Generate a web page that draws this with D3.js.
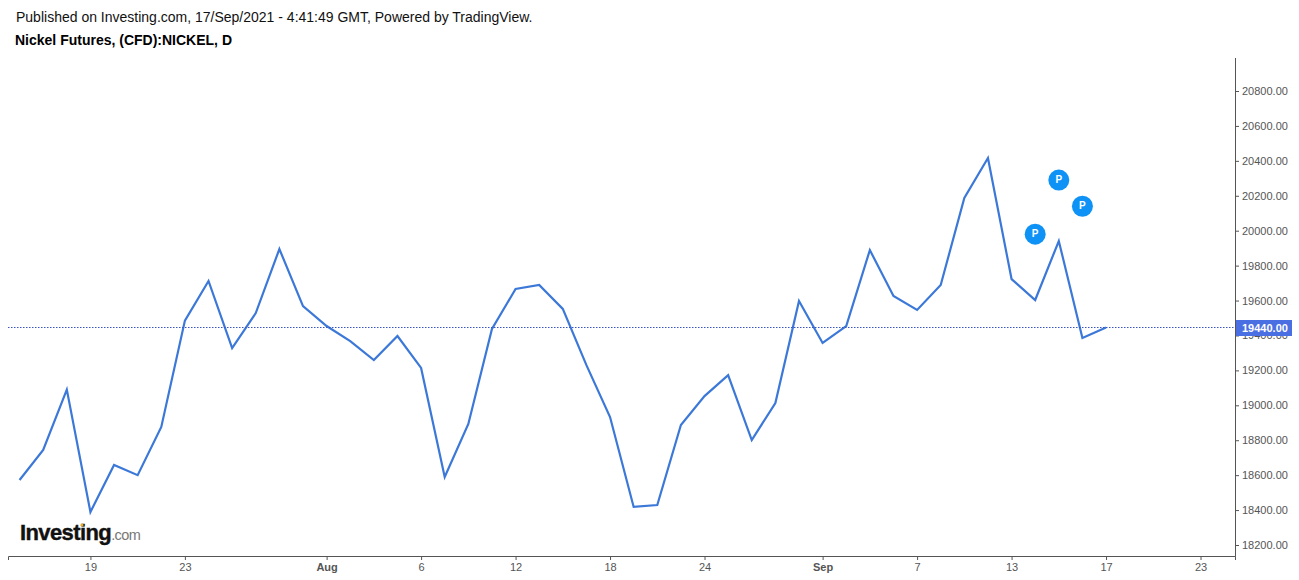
<!DOCTYPE html>
<html>
<head>
<meta charset="utf-8">
<script src="https://cdn.jsdelivr.net/npm/d3@7"></script>
<style>
    html, body { margin: 0; padding: 0; background: #fff; }
    svg { display: block; }
    text { font-family: "Liberation Sans", Arial, sans-serif; }
</style>
</head>
<body>
<div id="chart"></div>
<script>
// Trading days, Jul 14 to Sep 17 (2021)
const days = [
    "Jul 14", "Jul 15", "Jul 16", "Jul 19", "Jul 20", "Jul 21", "Jul 22", "Jul 23",
    "Jul 26", "Jul 27", "Jul 28", "Jul 29", "Jul 30", "Aug 2", "Aug 3", "Aug 4",
    "Aug 5", "Aug 6", "Aug 9", "Aug 10", "Aug 11", "Aug 12", "Aug 13", "Aug 16",
    "Aug 17", "Aug 18", "Aug 19", "Aug 20", "Aug 23", "Aug 24", "Aug 25", "Aug 26",
    "Aug 27", "Aug 30", "Aug 31", "Sep 1", "Sep 2", "Sep 3", "Sep 6", "Sep 7",
    "Sep 8", "Sep 9", "Sep 10", "Sep 13", "Sep 14", "Sep 15", "Sep 16", "Sep 17"
];

// Close prices
const closes = [
    18572, 18744, 19090, 18389, 18658, 18600, 18876, 19485,
    19712, 19328, 19528, 19895, 19568, 19454, 19368, 19259,
    19397, 19214, 18590, 18893, 19437, 19666, 19689, 19552,
    19230, 18933, 18418, 18429, 18887, 19053, 19173, 18801,
    19013, 19597, 19357, 19454, 19889, 19626, 19546, 19689,
    20188, 20416, 19723, 19603, 19941, 19386, 19445
];

// x tick labels, by position on the time axis
const xTickPositions = [3, 7, 13, 17, 21, 25, 29, 34, 38, 42, 46, 50];
const xTickLabels = ["19", "23", "Aug", "6", "12", "18", "24", "Sep", "7", "13", "17", "23"];
const boldTicks = ["Aug", "Sep"];

const yTicks = [18200, 18400, 18600, 18800, 19000, 19200, 19400, 19600, 19800, 20000, 20200, 20400, 20600, 20800];

// "P" idea markers: position on the time axis, price level
const markerPositions = [43, 44, 45];
const markerPrices = [19980, 20290, 20140];

const lastPrice = 19440;
const publishedText = "Published on Investing.com, 17/Sep/2021 - 4:41:49 GMT, Powered by TradingView.";
const symbolText = "Nickel Futures, (CFD):NICKEL, D";

const width = 1299;
const height = 580;
const axisX = 1235;
const axisY = 556;

const svg = d3.select("#chart")
    .append("svg")
    .attr("width", width)
    .attr("height", height);

const xScale = d3.scaleLinear()
    .domain([-0.49, 51.46])
    .range([8, axisX]);

const yScale = d3.scaleLinear()
    .domain([18200, 20800])
    .range([545, 91]);

// Header text
svg.append("text")
    .attr("x", 16)
    .attr("y", 22)
    .attr("font-size", 14)
    .attr("fill", "#111")
    .text(publishedText);

svg.append("text")
    .attr("x", 15)
    .attr("y", 45)
    .attr("font-size", 14)
    .attr("font-weight", "bold")
    .attr("fill", "#000")
    .text(symbolText);

// Axes
const xAxis = d3.axisBottom(xScale)
    .tickValues(xTickPositions)
    .tickSize(4)
    .tickPadding(3)
    .tickFormat((d, i) => xTickLabels[i]);

const xAxisG = svg.append("g")
    .attr("transform", `translate(0, ${axisY})`)
    .call(xAxis);

xAxisG.select(".domain").attr("stroke", "#555").attr("stroke-width", 1);
xAxisG.selectAll(".tick line").attr("stroke", "#555");
xAxisG.selectAll(".tick text")
    .attr("font-size", 11)
    .attr("fill", "#555")
    .attr("font-weight", d => boldTicks.includes(xTickLabels[xTickPositions.indexOf(d)]) ? "bold" : "normal");

const yAxis = d3.axisRight(yScale)
    .tickValues(yTicks)
    .tickSize(4)
    .tickPadding(3)
    .tickFormat(d3.format(".2f"));

const yAxisG = svg.append("g")
    .attr("transform", `translate(${axisX}, 0)`)
    .call(yAxis);

yAxisG.select(".domain").attr("d", `M0.5,58V${axisY + 0.5}`).attr("stroke", "#555").attr("stroke-width", 1);
yAxisG.selectAll(".tick line").attr("stroke", "#555");
yAxisG.selectAll(".tick text")
    .attr("font-size", 11)
    .attr("fill", "#555");

// Price line
const line = d3.line()
    .x((d, i) => xScale(i))
    .y(d => yScale(d));

svg.append("path")
    .datum(closes)
    .attr("fill", "none")
    .attr("stroke", "#3c78d8")
    .attr("stroke-width", 2.2)
    .attr("stroke-linejoin", "miter")
    .attr("d", line);

// Last price dotted line and label
const lastY = Math.floor(yScale(lastPrice)) - 0.5;

svg.append("line")
    .attr("x1", 8)
    .attr("x2", axisX)
    .attr("y1", lastY)
    .attr("y2", lastY)
    .attr("stroke", "#3a55c0")
    .attr("stroke-width", 1)
    .attr("stroke-dasharray", "1.5,1.5");

svg.append("rect")
    .attr("x", axisX + 1)
    .attr("y", lastY - 7.5)
    .attr("width", 56)
    .attr("height", 16)
    .attr("fill", "#4a6fe3");

svg.append("text")
    .attr("x", axisX + 7)
    .attr("y", lastY + 4.5)
    .attr("font-size", 11)
    .attr("font-weight", "bold")
    .attr("fill", "#fff")
    .text(d3.format(".2f")(lastPrice));

// P markers
const markers = svg.selectAll(".marker")
    .data(markerPositions)
    .enter()
    .append("g")
    .attr("class", "marker")
    .attr("transform", (d, i) => `translate(${xScale(d)}, ${yScale(markerPrices[i])})`);

markers.append("circle")
    .attr("r", 10.5)
    .attr("fill", "#0f92f5");

markers.append("text")
    .attr("text-anchor", "middle")
    .attr("y", 3)
    .attr("font-size", 10)
    .attr("font-weight", "bold")
    .attr("fill", "#fff")
    .text("P");

// Logo
const logo = svg.append("text")
    .attr("x", 20)
    .attr("y", 540)
    .attr("fill", "#111");

logo.append("tspan")
    .attr("font-size", 22)
    .attr("font-weight", "bold")
    .attr("letter-spacing", -0.6)
    .attr("stroke", "#111")
    .attr("stroke-width", 0.4)
    .text("Investing");

logo.append("tspan")
    .attr("font-size", 14.5)
    .attr("fill", "#777")
    .attr("letter-spacing", -0.6)
    .text(".com");

// Yellow dot on the logo's second i
svg.append("circle")
    .attr("cx", 82)
    .attr("cy", 525)
    .attr("r", 1.6)
    .attr("fill", "#e8a92c");
</script>
</body>
</html>
